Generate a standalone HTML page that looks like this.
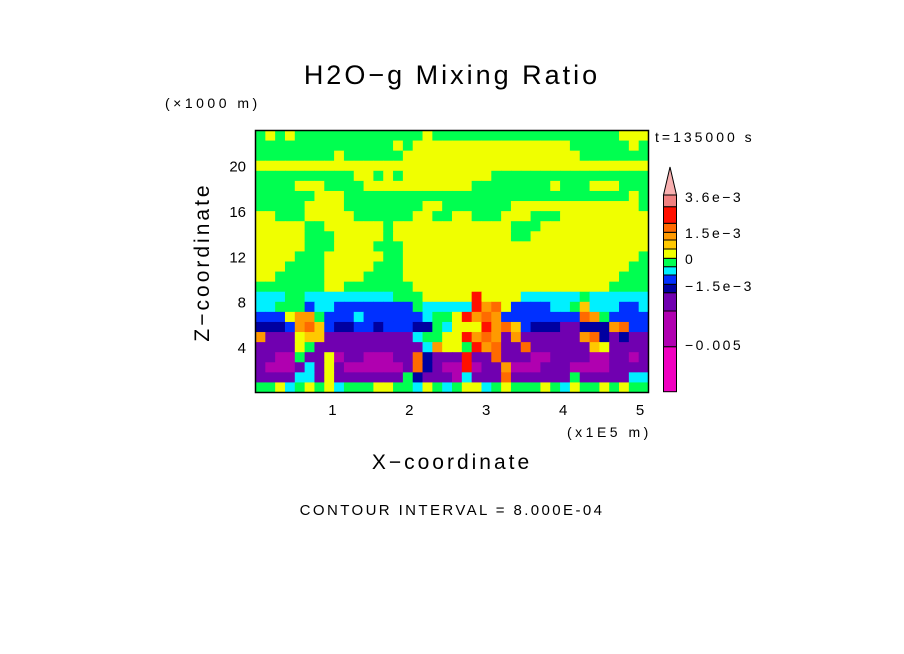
<!DOCTYPE html>
<html><head><meta charset="utf-8"><style>
html,body{margin:0;padding:0;background:#fff;}
svg{display:block;font-family:"Liberation Sans",sans-serif;}
</style></head><body>
<svg id="chart" width="904" height="654" viewBox="0 0 904 654">
<text x="452" y="84" font-size="27" letter-spacing="3" text-anchor="middle">H2O−g Mixing Ratio</text>
<text x="165" y="108" font-size="14" letter-spacing="3.5">(×1000 m)</text>
<text x="655" y="142" font-size="14" letter-spacing="3">t=135000 s</text>
<g id="field"></g>
<rect x="255.5" y="130.5" width="393" height="262" fill="none" stroke="#000" stroke-width="1.5"/>
<g id="yticks"></g>
<g id="xticks"></g>
<text x="567" y="437" font-size="14" letter-spacing="3.5">(x1E5 m)</text>
<text x="452" y="469" font-size="21" letter-spacing="3" text-anchor="middle">X−coordinate</text>
<text transform="translate(209,262) rotate(-90)" font-size="21" letter-spacing="3" text-anchor="middle">Z−coordinate</text>
<text x="452" y="515" font-size="15" letter-spacing="2.4" text-anchor="middle">CONTOUR INTERVAL = 8.000E-04</text>
<g id="cbar"></g>
</svg>
<script>
const palette = ["#f000c0","#b000b0","#7000b0","#0000a0","#0030ff","#00f0ff","#00ff50","#f0ff00","#ffc800","#ff9a00","#ff6a00","#ff1000","#f08080","#f8b0b0"];
const yTickValues = [4, 8, 12, 16, 20];
const xTickValues = [1, 2, 3, 4, 5];
const cbarBounds = [391.7, 346.7, 311, 292.7, 284.3, 275, 266.7, 258.3, 249, 240, 232.3, 223.3, 206.7, 195];
const cbarLabels = ["−0.005", "−1.5e−3", "0", "1.5e−3", "3.6e−3"];
const cbarLabelPos = [345, 286, 259, 233, 197];
const fieldRows = [
"6767666666666666676666666666666666666777",
"6666666666666676777777777777777766666676",
"6666666676666667777777777777777776666666",
"7777777777777777777777777777777777777777",
"6666666666776767777777776666666666666666",
"6666777666677777777777666666667666777666",
"6666667776666666666666666666666666666676",
"6666677776666666677666666677777777777776",
"7766677777666666776677666777666777777777",
"7777766777777677777777777766677777777777",
"7777766677777677777777777766777777777777",
"7777766677776667777777777777777777777777",
"7777666777777667777777777777777777777776",
"7776666777776667777777777777777777777766",
"7766666777766667777777777777777777777666",
"6666666776666666777777777777777777776666",
"5556655555555566677777b77775555556555555",
"5566645544444444655555b9a744445568555445",
"444799644454444445667b9a944444444a964444",
"33349a84334434443365777b9a84333223339a443",
"922278822222222256677b9a9292222229a32322",
"2222762222222222259776b9a22a222222872222",
"2211622712211122a3222b22a2221122221122122",
"2111252721111112a3211b12291112221111222",
"2222552722222226322215222a22222262222255",
"6675676756667766576567756766676576676766"
];
const zMax = 23.08, xMax = 5.11;
const X0 = 255.5, X1 = 648.5, Y0 = 392.5, Y1 = 130.5;
function xScale(v){ return X0 + (v / xMax) * (X1 - X0); }
function yScale(v){ return Y0 - (v / zMax) * (Y0 - Y1); }
const NS = "http://www.w3.org/2000/svg";
const nCols = 40, nRows = fieldRows.length;
const field = document.getElementById("field");
for (let r = 0; r < nRows; r++) {
  let row = fieldRows[r];
  while (row.length < nCols) row += row[row.length - 1];
  row = row.slice(0, nCols);
  for (let c = 0; c < nCols; c++) {
    const idx = parseInt(row[c], 16);
    const x0 = xScale(c * xMax / nCols), x1 = xScale((c + 1) * xMax / nCols);
    const ya = yScale(zMax - r * zMax / nRows), yb = yScale(zMax - (r + 1) * zMax / nRows);
    const el = document.createElementNS(NS, "rect");
    el.setAttribute("x", x0); el.setAttribute("y", ya);
    el.setAttribute("width", x1 - x0 + 0.5); el.setAttribute("height", yb - ya + 0.5);
    el.setAttribute("fill", palette[idx]);
    
    
    field.appendChild(el);
  }
}
const yt = document.getElementById("yticks");
yTickValues.forEach(v => {
  const t = document.createElementNS(NS, "text");
  t.setAttribute("x", 246); t.setAttribute("y", yScale(v) + 6);
  t.setAttribute("font-size", "15"); t.setAttribute("text-anchor", "end");
  t.textContent = v;
  
  
  yt.appendChild(t);
});
const xt = document.getElementById("xticks");
xTickValues.forEach(v => {
  const t = document.createElementNS(NS, "text");
  t.setAttribute("x", xScale(v)); t.setAttribute("y", 415);
  t.setAttribute("font-size", "15"); t.setAttribute("text-anchor", "middle");
  t.textContent = v;
  
  
  xt.appendChild(t);
});
const cb = document.getElementById("cbar");
const CX0 = 663.5, CX1 = 676.5;
for (let i = 0; i < cbarBounds.length - 1; i++) {
  const el = document.createElementNS(NS, "rect");
  el.setAttribute("x", CX0); el.setAttribute("y", cbarBounds[i + 1]);
  el.setAttribute("width", CX1 - CX0); el.setAttribute("height", cbarBounds[i] - cbarBounds[i + 1]);
  el.setAttribute("fill", palette[i]); el.setAttribute("stroke", "#000"); el.setAttribute("stroke-width", "1");
  
  
  cb.appendChild(el);
}
const tri = document.createElementNS(NS, "polygon");
tri.setAttribute("points", `${CX0},195 ${CX1},195 ${(CX0 + CX1) / 2},167`);
tri.setAttribute("fill", palette[13]); tri.setAttribute("stroke", "#000");


cb.appendChild(tri);
cbarLabels.forEach((s, i) => {
  const t = document.createElementNS(NS, "text");
  t.setAttribute("x", 685); t.setAttribute("y", cbarLabelPos[i] + 5);
  t.setAttribute("font-size", "14");
  t.setAttribute("letter-spacing", "2.5");
  t.textContent = s;
  
  
  cb.appendChild(t);
});
</script>
</body></html>
